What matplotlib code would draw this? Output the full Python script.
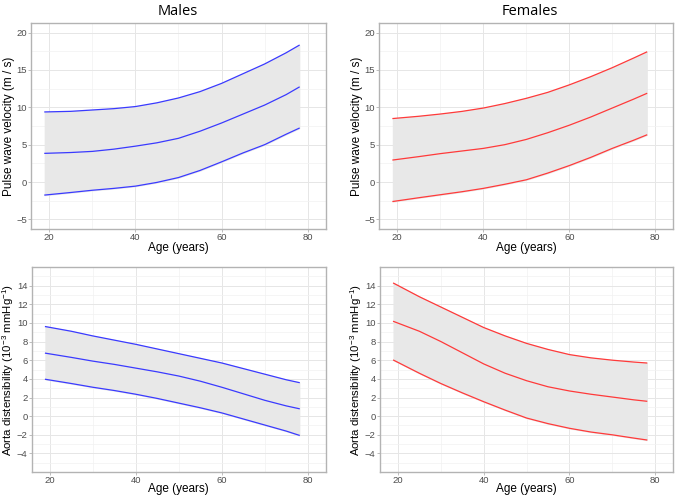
import matplotlib.pyplot as plt
import numpy as np

ages = np.array([19, 25, 30, 35, 40, 45, 50, 55, 60, 65, 70, 75, 78])

# pulse wave velocity (m/s), males
pwv_m_hi = np.array([9.38, 9.46, 9.64, 9.82, 10.1, 10.6, 11.25, 12.1, 13.2, 14.5, 15.8, 17.3, 18.3])
pwv_m_mid = np.array([3.84, 3.95, 4.1, 4.4, 4.8, 5.25, 5.85, 6.8, 7.9, 9.1, 10.3, 11.7, 12.7])
pwv_m_lo = np.array([-1.74, -1.4, -1.1, -0.85, -0.55, -0.05, 0.6, 1.55, 2.7, 3.9, 5.0, 6.4, 7.2])

# pulse wave velocity (m/s), females
pwv_f_hi = np.array([8.5, 8.8, 9.1, 9.45, 9.9, 10.5, 11.2, 12.0, 13.0, 14.1, 15.3, 16.6, 17.4])
pwv_f_mid = np.array([2.95, 3.4, 3.8, 4.15, 4.5, 5.0, 5.7, 6.6, 7.6, 8.7, 9.9, 11.1, 11.85])
pwv_f_lo = np.array([-2.6, -2.1, -1.7, -1.3, -0.85, -0.3, 0.3, 1.2, 2.2, 3.3, 4.5, 5.6, 6.3])

# aorta distensibility, males
ad_m_hi = np.array([9.6, 9.1, 8.6, 8.15, 7.7, 7.2, 6.7, 6.2, 5.7, 5.1, 4.5, 3.9, 3.6])
ad_m_mid = np.array([6.75, 6.3, 5.9, 5.55, 5.15, 4.75, 4.3, 3.75, 3.1, 2.4, 1.7, 1.1, 0.8])
ad_m_lo = np.array([3.95, 3.5, 3.1, 2.75, 2.35, 1.9, 1.4, 0.9, 0.35, -0.3, -0.95, -1.6, -2.05])

# aorta distensibility, females
ad_f_hi = np.array([14.25, 12.8, 11.7, 10.6, 9.5, 8.6, 7.8, 7.15, 6.6, 6.25, 6.0, 5.8, 5.7])
ad_f_mid = np.array([10.15, 9.1, 8.0, 6.8, 5.6, 4.6, 3.8, 3.15, 2.7, 2.35, 2.05, 1.75, 1.6])
ad_f_lo = np.array([6.0, 4.6, 3.5, 2.5, 1.55, 0.65, -0.2, -0.8, -1.3, -1.7, -2.0, -2.35, -2.55])

pwv_ticks = [-5, 0, 5, 10, 15, 20]
ad_ticks = [-4, -2, 0, 2, 4, 6, 8, 10, 12, 14]
age_ticks = [20, 40, 60, 80]

blue = "#3a3aff"
red = "#ff3a3a"

plt.rcParams["font.family"] = "Liberation Sans"
plt.rcParams["mathtext.fontset"] = "custom"
plt.rcParams["mathtext.rm"] = "Liberation Sans"
plt.rcParams["mathtext.it"] = "Liberation Sans:italic"

fig = plt.figure(figsize=(6.76, 4.97), dpi=100)
axes = [
    fig.add_axes([0.046, 0.539, 0.436, 0.415]),
    fig.add_axes([0.561, 0.539, 0.435, 0.415]),
    fig.add_axes([0.047, 0.050, 0.435, 0.413]),
    fig.add_axes([0.562, 0.050, 0.434, 0.413]),
]

panels = [
    (pwv_m_lo, pwv_m_mid, pwv_m_hi, blue, "pwv"),
    (pwv_f_lo, pwv_f_mid, pwv_f_hi, red, "pwv"),
    (ad_m_lo, ad_m_mid, ad_m_hi, blue, "ad"),
    (ad_f_lo, ad_f_mid, ad_f_hi, red, "ad"),
]

for ax, (lo, mid, hi, col, kind) in zip(axes, panels):
    ax.fill_between(ages, lo, hi, color="#e8e8e8", zorder=1)
    for s in (lo, mid, hi):
        ax.plot(ages, s, color=col, lw=0.9, zorder=2)
    ax.set_xlim(15.8, 84.2)
    ax.set_xticks(age_ticks)
    ax.set_xticks([30, 50, 70], minor=True)
    if kind == "pwv":
        ax.set_ylim(-6.3, 21.3)
        ax.set_yticks(pwv_ticks)
        ax.set_yticks([-2.5, 2.5, 7.5, 12.5, 17.5], minor=True)
        ax.set_ylabel("Pulse wave velocity (m / s)", fontsize=8.5)
        xl_y = -0.092
        yl_x = -0.074
    else:
        ax.set_ylim(-6.0, 16.0)
        ax.set_yticks(ad_ticks)
        ax.set_yticks(np.arange(-5, 16, 2), minor=True)
        ax.set_ylabel("Aorta distensibility (10$^{-3}$ mmHg$^{-1}$)", fontsize=8.2)
        xl_y = -0.083
        yl_x = -0.082
    ax.set_xlabel("Age (years)", fontsize=8.5)
    ax.yaxis.label.set_va("center")
    ax.yaxis.label.set_ha("center")
    ax.yaxis.set_label_coords(yl_x, 0.5)
    ax.xaxis.label.set_va("center")
    ax.xaxis.set_label_coords(0.5, xl_y)
    ax.grid(which="major", color="#e6e6e6", lw=0.7, zorder=0)
    ax.grid(which="minor", color="#f2f2f2", lw=0.5, zorder=0)
    ax.set_axisbelow(True)
    ax.tick_params(which="major", length=2, width=0.6, color="#b3b3b3",
                   labelsize=6.8, labelcolor="#4d4d4d", pad=1)
    ax.tick_params(which="minor", length=0)
    for sp in ax.spines.values():
        sp.set_color("#b3b3b3")
        sp.set_linewidth(1.0)

fig.text(0.263, 0.977, "Males", ha="center", va="center", fontsize=10.5, family="Open Sans")
fig.text(0.784, 0.977, "Females", ha="center", va="center", fontsize=10.5, family="Open Sans")

fig.savefig("out.png", dpi=100)
